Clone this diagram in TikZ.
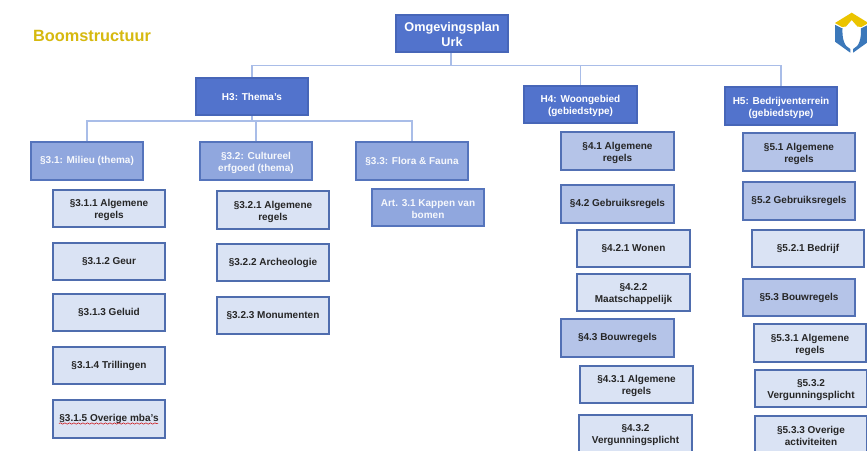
\documentclass[tikz,border=0pt]{standalone}
\usepackage{fontspec}
\setmainfont{Liberation Sans}
\usetikzlibrary{decorations.pathmorphing}
\definecolor{rootfill}{HTML}{5273CC}
\definecolor{rootline}{HTML}{4766B8}
\definecolor{paraf}{HTML}{90A7DE}
\definecolor{paral}{HTML}{5574BC}
\definecolor{lightf}{HTML}{DAE3F4}
\definecolor{lightl}{HTML}{4F6DAE}
\definecolor{midf}{HTML}{B5C4E8}
\definecolor{midl}{HTML}{5270B4}
\definecolor{conn}{HTML}{A9BDE8}
\definecolor{titlec}{HTML}{D6B90F}
\definecolor{logoy}{HTML}{EBC400}
\definecolor{logob}{HTML}{3B78BA}
\newcommand\lowr{\rule{0pt}{10.5pt}}
\tikzset{
  x=1pt,y=-1pt,
  base/.style={draw,rectangle,line width=1.7pt,minimum width=112.5pt,minimum height=37.5pt,
    inner sep=1pt,align=center,font=\fontsize{10}{12.3}\selectfont\bfseries},
  top/.style={base,fill=rootfill,draw=rootline,text=white},
  rootbox/.style={top,font=\fontsize{12.7}{15}\selectfont\bfseries},
  para/.style={base,fill=paraf,draw=paral,text=white!92!paraf},
  mid/.style={base,fill=midf,draw=midl,text=black!85},
  light/.style={base,fill=lightf,draw=lightl,text=black!85},
  link/.style={draw=conn,line width=1.2pt},
}
\begin{document}
\begin{tikzpicture}
\useasboundingbox (0,0) rectangle (867,450);
\clip (0,0) rectangle (867,450);
\fill[white] (0,0) rectangle (867,450);

\node[font=\fontsize{16.3}{18}\selectfont\bfseries,text=titlec,inner sep=0pt] (title) at (92,35.5) {Boomstructuur};

\coordinate (j1) at (451,65.5);
\coordinate (j2) at (252,121);

\node[rootbox] (root) at (452,33.5) {\lowr Omgevingsplan\\Urk};
\node[top] (h3) at (252,96.5) {H3: Thema's};
\node[top] (h4) at (580.5,104.5) {\lowr H4: Woongebied\\(gebiedstype)};
\node[top] (h5) at (781,106) {\lowr H5: Bedrijventerrein\\(gebiedstype)};

\node[para] (p31) at (87,161) {§3.1: Milieu (thema)};
\node[para] (p32) at (256,161) {\lowr §3.2: Cultureel\\erfgoed (thema)};
\node[para] (p33) at (412,161) {§3.3: Flora \& Fauna};
\node[para] (a31) at (428,207.5) {\lowr Art. 3.1 Kappen van\\bomen};

\node[light] (p311) at (109,208.5) {\lowr §3.1.1 Algemene\\regels};
\node[light] (p312) at (109,261.5) {§3.1.2 Geur};
\node[light] (p313) at (109,312.5) {§3.1.3 Geluid};
\node[light] (p314) at (109,365.5) {§3.1.4 Trillingen};
\node[light] (p315) at (109,419) {§3.1.5 Overige mba's};

\node[light] (p321) at (273,210) {\lowr §3.2.1 Algemene\\regels};
\node[light] (p322) at (273,262.5) {§3.2.2 Archeologie};
\node[light] (p323) at (273,315.5) {§3.2.3 Monumenten};

\node[mid] (p41) at (617.5,151) {\lowr §4.1 Algemene\\regels};
\node[mid] (p42) at (617.5,204) {§4.2 Gebruiksregels};
\node[light] (p421) at (633.5,248.5) {§4.2.1 Wonen};
\node[light] (p422) at (633.5,292.5) {\lowr §4.2.2\\Maatschappelijk};
\node[mid] (p43) at (617.5,338) {§4.3 Bouwregels};
\node[light] (p431) at (636.5,384.5) {\lowr §4.3.1 Algemene\\regels};
\node[light] (p432) at (635.5,433.5) {\lowr §4.3.2\\Vergunningsplicht};

\node[mid] (p51) at (799,152) {\lowr §5.1 Algemene\\regels};
\node[mid] (p52) at (799,201) {§5.2 Gebruiksregels};
\node[light] (p521) at (808,248.5) {§5.2.1 Bedrijf};
\node[mid] (p53) at (799,297.5) {§5.3 Bouwregels};
\node[light] (p531) at (810,343) {\lowr §5.3.1 Algemene\\regels};
\node[light] (p532) at (811,388.5) {\lowr §5.3.2\\Vergunningsplicht};
\node[light] (p533) at (811,434.5) {\lowr §5.3.3 Overige\\activiteiten};

% connectors
\draw[link] (root.south -| j1) -- (j1);
\draw[link] (h3.north) -- (h3.north |- j1) -- (h5.north |- j1) -- (h5.north);
\draw[link] (h4.north) -- (h4.north |- j1);
\draw[link] (h3.south) -- (j2);
\draw[link] (p31.north) -- (p31.north |- j2) -- (p33.north |- j2) -- (p33.north);
\draw[link] (p32.north) -- (p32.north |- j2);

% spell-check underline
\draw[red!80!black,line width=.5pt,decorate,decoration={snake,amplitude=.7pt,segment length=4.5pt}]
  ([xshift=-50pt,yshift=-4.5pt]p315.center) -- ([xshift=49pt,yshift=-4.5pt]p315.center);

% logo
\fill[logoy] (851.7,12.7) -- (835,23) -- (842,27) -- (846,26.5) -- (851.7,20) -- (857.4,26.5) -- (861.4,27) -- (868.4,23) -- cycle;
\fill[logob] (835,24.8) -- (835,41.7) -- (850.3,52.7) -- (850.3,49) .. controls (844,46.5) and (842,38) .. (842.5,28.5) -- cycle;
\fill[logob] (868.4,24.8) -- (868.4,41.7) -- (853.1,52.7) -- (853.1,49) .. controls (859.4,46.5) and (861.4,38) .. (860.9,28.5) -- cycle;
\end{tikzpicture}
\end{document}
